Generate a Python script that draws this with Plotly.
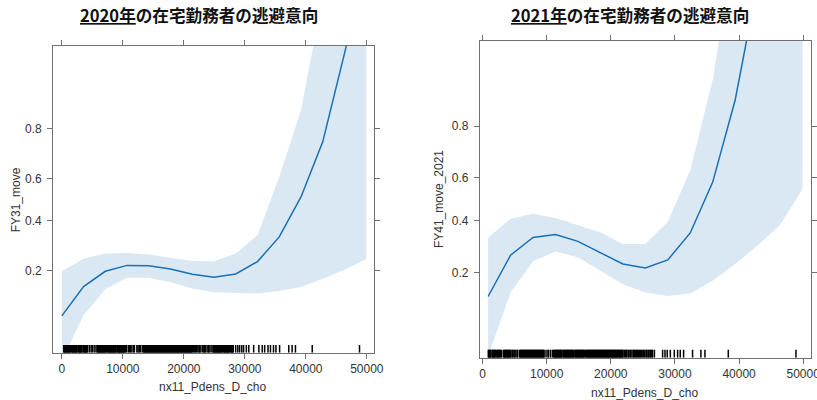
import numpy as np
import plotly.graph_objects as go

# ---------------- data ----------------
titles = ["<u>2020年</u>の在宅勤務者の逃避意向", "<u>2021年</u>の在宅勤務者の逃避意向"]
y_titles = ["FY31_move", "FY41_move_2021"]
x_title = "nx11_Pdens_D_cho"

x_ticks = [0, 10000, 20000, 30000, 40000, 50000]
y_ticks = [0.2, 0.4, 0.6, 0.8]

x20 = [0, 3564, 7129, 10693, 14257, 17821, 21386, 24950, 28514, 32079, 35643, 39207, 42771, 46336, 49900]
fit20 = [0.093, 0.154, 0.197, 0.216, 0.215, 0.204, 0.188, 0.179, 0.189, 0.229, 0.325, 0.513, 0.756, 0.943, 0.99]
upper20 = [0.197, 0.239, 0.258, 0.260, 0.254, 0.243, 0.231, 0.230, 0.258, 0.332, 0.609, 0.852, 0.978, 0.998, 0.9999]
lower20 = [0.041, 0.094, 0.147, 0.178, 0.178, 0.165, 0.149, 0.140, 0.138, 0.137, 0.143, 0.153, 0.175, 0.202, 0.237]

x21 = [870, 4372, 7874, 11376, 14878, 18380, 21882, 25384, 28886, 32388, 35890, 39392, 42894, 46396, 49898]
fit21 = [0.137, 0.258, 0.327, 0.339, 0.311, 0.266, 0.227, 0.214, 0.241, 0.346, 0.581, 0.868, 0.981, 0.998, 0.9998]
upper21 = [0.327, 0.409, 0.432, 0.413, 0.380, 0.349, 0.300, 0.300, 0.395, 0.634, 0.906, 0.993, 0.9999, 0.99999, 0.999999]
lower21 = [0.049, 0.146, 0.236, 0.271, 0.250, 0.205, 0.167, 0.146, 0.138, 0.144, 0.176, 0.227, 0.294, 0.381, 0.550]

rug20 = [300, 400, 500, 600, 700, 800, 900, 1000, 1100, 1200, 1300, 1400, 1600, 1700, 1800, 1900, 2000,
         2100, 2200, 2300, 2400, 2500, 2700, 2800, 2900, 3000, 3100, 3200, 3300, 3500, 3600, 3700, 3800,
         3900, 4000, 4100, 4200,
         4500, 4800, 5000, 5300, 5600,
         5800, 5900, 6000, 6100, 6200, 6300, 6400, 6500, 6600, 6700, 6800, 6900, 7000, 7100, 7200, 7300,
         7500, 7600, 7700, 7800, 7900, 8000, 8100, 8200, 8300, 8400, 8500, 8600, 8700, 8800, 8900, 9100,
         9200, 9300, 9400, 9500, 9600, 9700, 9800, 9900, 10000, 10100, 10200, 10300, 10400,
         10600, 10900, 11100, 11300, 11500, 11800, 11900, 12300, 12500, 12700, 12900, 13200,
         13400, 13500, 13600, 13700, 13800, 13900, 14000, 14100, 14200, 14300, 14400, 14500, 14600, 14700,
         14800, 14900, 15000, 15100, 15200, 15300, 15400, 15500, 15600, 15700, 15800, 15900, 16000, 16100,
         16200, 16300, 16400, 16500, 16600, 16700, 16800, 16900, 17000, 17100, 17200, 17300, 17400, 17500,
         17600, 17700, 17800, 17900, 18000, 18100, 18200, 18300, 18400, 18500, 18600, 18700, 18800, 18900,
         19000, 19100, 19200, 19300, 19400, 19500, 19600, 19700, 19800, 19900, 20000, 20100, 20200, 20300,
         20400, 20500, 20600, 20700, 20800, 20900, 21000, 21100, 21200, 21300, 21400,
         21600, 21800, 21900, 22100, 22300, 22500, 22600, 22800, 23100, 23300, 23400, 23500, 23800, 24000,
         24100, 24300, 24600, 24800,
         24900, 25000, 25100, 25200, 25300, 25400, 25500, 25600, 25700, 25800, 25900, 26000, 26100, 26200,
         26300, 26500, 26600, 26700, 26800, 26900, 27000, 27100, 27200, 27300, 27400, 27500, 27700, 27800,
         27900, 28000, 28100,
         28500, 28850, 29150, 29500, 29800, 30250, 30650, 31450, 32300, 32850, 33250, 33800, 34200, 34700,
         35100, 35700, 37200, 37750, 38300, 41050, 48800]

rug21 = [900, 1000, 1100, 1200, 1300, 1500, 1600, 1700, 1800, 1900, 2000, 2200, 2300, 2400, 2500, 2600,
         2700, 2800, 3000,
         3300, 3400, 3500, 3600, 3700, 3800, 3900, 4000, 4100, 4200, 4300, 4400, 4600, 4700, 4900, 5000,
         5200, 5400, 5500,
         5800, 5900, 6000, 6100, 6200, 6300, 6400, 6500, 6600, 6700, 6800, 6900, 7000, 7100, 7200, 7300,
         7400, 7500, 7600, 7700, 7800, 7900, 8000, 8100, 8200, 8300, 8400, 8500, 8600, 8700, 8800, 8900,
         9000, 9100, 9200, 9300, 9400, 9500, 9600,
         9900, 10200, 10300, 10600, 10900,
         11100, 11200, 11300, 11400, 11500, 11600, 11700, 11800, 11900, 12000, 12100, 12200, 12300, 12400,
         12600, 12700, 12800, 12900, 13000, 13100, 13200, 13300, 13400, 13500, 13600, 13700, 13800, 13900,
         14000, 14100, 14200, 14400, 14500, 14600, 14700, 14800, 14900, 15000, 15100, 15200, 15300, 15400,
         15500, 15600, 15700, 15800, 15900, 16100, 16200, 16300, 16400, 16500, 16600, 16700, 16800, 16900,
         17000, 17100, 17200, 17300, 17400, 17500, 17600, 17700, 17800, 17900, 18000, 18100, 18200, 18300,
         18400, 18500, 18600, 18700, 18800, 18900, 19000, 19100, 19200, 19300, 19400, 19500, 19600, 19700,
         19800, 19900, 20000, 20100, 20200, 20300, 20400, 20500, 20600, 20700, 20800, 20900, 21000, 21100,
         21200, 21300, 21400, 21500, 21600, 21700, 21800, 21900,
         22100, 22300, 22400, 22500, 22700, 22800, 23000, 23100, 23300, 23500, 23600, 23700, 23900, 24000,
         24200, 24300, 24500, 24600, 24800, 25000, 25100, 25300, 25500, 25600, 25800, 25900, 26100, 26200,
         26400, 26500,
         26800, 28080, 28450, 28800, 29280, 29900, 30420, 30830, 31350, 32750, 34050, 34680, 38320, 48870]

# ---------------- helpers ----------------
def logit(p):
    p = np.asarray(p, dtype=float)
    return np.log(p / (1 - p))

LINE = "#1B6FB3"
BAND = "#DAE8F4"
FRAME = "#707070"
TICKFONT = dict(family="Liberation Sans, Arial, sans-serif", size=12, color="#333333")

W, H = 817, 400          # target picture size (positions below are in these pixels)
FIG_W = 826              # figure width handed to plotly (calibrated against the photographed page)
Y_RANGE = [-3.0, 3.01]
RUG_H = 0.15

panels = [
    dict(x=x20, fit=fit20, up=upper20, lo=lower20, rug=rug20, xa="x", ya="y",
         xdom=[52.3 / W, 374 / W], ydom=[1 - 352.7 / H, 1 - 46 / H], xr=[-1420, 51190]),
    dict(x=x21, fit=fit21, up=upper21, lo=lower21, rug=rug21, xa="x2", ya="y2",
         xdom=[480 / W, 811.7 / W], ydom=[1 - 357.7 / H, 1 - 40.5 / H], xr=[-420, 51170]),
]

fig = go.Figure()
layout = dict(width=FIG_W, height=H, autosize=False, margin=dict(l=0, r=0, t=0, b=0),
              paper_bgcolor="white", plot_bgcolor="white", showlegend=False)

for i, p in enumerate(panels):
    xs = list(p["x"])
    fig.add_trace(go.Scatter(
        x=xs + xs[::-1],
        y=list(logit(p["up"])) + list(logit(p["lo"]))[::-1],
        fill="toself", fillcolor=BAND, line=dict(width=0), mode="lines",
        hoverinfo="skip", xaxis=p["xa"], yaxis=p["ya"]))
    fig.add_trace(go.Scatter(
        x=xs, y=logit(p["fit"]), mode="lines", line=dict(color=LINE, width=1.5),
        xaxis=p["xa"], yaxis=p["ya"]))
    rx, ry = [], []
    for v in p["rug"]:
        rx += [v, v, None]
        ry += [Y_RANGE[0], Y_RANGE[0] + RUG_H, None]
    fig.add_trace(go.Scatter(x=rx, y=ry, mode="lines", line=dict(color="black", width=1.5, simplify=False),
                             xaxis=p["xa"], yaxis=p["ya"], hoverinfo="skip"))

    ax_common = dict(showline=True, linecolor=FRAME, linewidth=1, mirror="ticks",
                     ticks="outside", ticklen=5, tickcolor=FRAME, tickwidth=1,
                     showgrid=False, zeroline=False, tickfont=TICKFONT, ticklabeloverflow="allow")
    xkey = "xaxis" if i == 0 else "xaxis2"
    ykey = "yaxis" if i == 0 else "yaxis2"
    layout[xkey] = dict(ax_common, domain=p["xdom"], range=p["xr"], anchor=p["ya"],
                        tickvals=x_ticks, ticktext=[str(t) for t in x_ticks])
    layout[ykey] = dict(ax_common, domain=p["ydom"], range=Y_RANGE, anchor=p["xa"],
                        tickvals=list(logit(y_ticks)), ticktext=[str(t) for t in y_ticks],
                        ticklabelstandoff=3)

annotations = []
title_x = [198.3, 631]
ytitle_x = [15, 439]
xtitle_pos = [(213, 386.7), (646, 393.3)]
for i in range(2):
    annotations.append(dict(text="<b>" + titles[i] + "</b>", xref="paper", yref="paper",
                            x=title_x[i] / W, y=1 - 15 / H, xanchor="center", yanchor="middle",
                            showarrow=False,
                            font=dict(family="Noto Sans CJK JP", size=16.6, color="#111111")))
    ydom = panels[i]["ydom"]
    annotations.append(dict(text=y_titles[i], xref="paper", yref="paper",
                            x=ytitle_x[i] / W, y=(ydom[0] + ydom[1]) / 2, textangle=-90,
                            xanchor="center", yanchor="middle", showarrow=False,
                            font=dict(family="Liberation Sans, Arial, sans-serif", size=12, color="#333333")))
    annotations.append(dict(text=x_title, xref="paper", yref="paper",
                            x=xtitle_pos[i][0] / W, y=1 - xtitle_pos[i][1] / H,
                            xanchor="center", yanchor="middle", showarrow=False,
                            font=dict(family="Liberation Sans, Arial, sans-serif", size=12, color="#333333")))
layout["annotations"] = annotations

fig.update_layout(**layout)
fig.write_html(
    "out.html",
    config={"displayModeBar": False, "responsive": False},
    post_script=(
        "document.documentElement.style.overflow='hidden';"
        "document.body.style.margin='0';document.body.style.overflow='hidden';"
    ),
)
